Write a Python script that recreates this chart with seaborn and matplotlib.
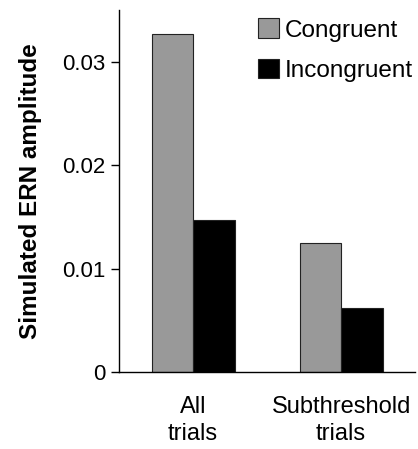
import matplotlib
matplotlib.use("Agg")
import matplotlib.pyplot as plt
import seaborn as sns
import pandas as pd
from matplotlib.patches import Patch

categories = ["All\ntrials", "Subthreshold\ntrials"]
conditions = ["Congruent", "Incongruent"]
congruent = [0.0327, 0.01242]
incongruent = [0.01465, 0.00616]
yticks = [0, 0.01, 0.02, 0.03]
yticklabels = ["0", "0.01", "0.02", "0.03"]

df = pd.DataFrame({
    "trial": categories * 2,
    "condition": [conditions[0]] * 2 + [conditions[1]] * 2,
    "amp": congruent + incongruent,
})

sns.set_style("white")
plt.rcParams['font.family'] = ['Liberation Sans', 'DejaVu Sans']
plt.rcParams['text.color'] = 'black'
plt.rcParams['xtick.color'] = 'black'
plt.rcParams['ytick.color'] = 'black'
plt.rcParams['axes.labelcolor'] = 'black'

fig = plt.figure(figsize=(4.18, 4.49), dpi=100)
ax = fig.add_axes([0.285, 0.1715, 0.708, 0.8065])
palette = {"Congruent": "#999999", "Incongruent": "#000000"}
sns.barplot(data=df, x="trial", y="amp", hue="condition", order=categories,
            hue_order=conditions, palette=palette, width=0.56, ax=ax,
            edgecolor="#222222", linewidth=0.8, saturation=1, legend=False, errorbar=None)

ax.set_xlim(-0.5, 1.5)
ax.set_ylim(0, 0.035)
ax.set_yticks(yticks)
ax.set_yticklabels(yticklabels, fontsize=16)
ax.set_xticks([0, 1])
ax.set_xticklabels(categories, fontsize=17, linespacing=1.3)
ax.tick_params(axis="x", which="major", length=0, pad=17)
ax.set_xticks([-0.5, 0.5, 1.5], minor=True)
ax.tick_params(axis="x", which="minor", length=6, width=1, color="black", direction="out")
ax.tick_params(axis="y", length=6, width=1, color="black", direction="out", pad=4, left=True)
ax.set_xlabel("")
ax.set_ylabel("Simulated ERN amplitude", fontsize=17.5, fontweight="bold", labelpad=14)
for s in ["top", "right"]:
    ax.spines[s].set_visible(False)
for s in ["left", "bottom"]:
    ax.spines[s].set_color("black")
    ax.spines[s].set_linewidth(1)

handles = [Patch(facecolor=palette[c], edgecolor="#222222", linewidth=0.8, label=c) for c in conditions]
leg = ax.legend(handles=handles, loc="upper right", bbox_to_anchor=(1.035, 1.01), frameon=False,
          fontsize=17.5, handlelength=0.85, handleheight=0.85, handletextpad=0.25, labelspacing=0.7,
          borderaxespad=0.1)

fig.savefig("out.png", dpi=100)
